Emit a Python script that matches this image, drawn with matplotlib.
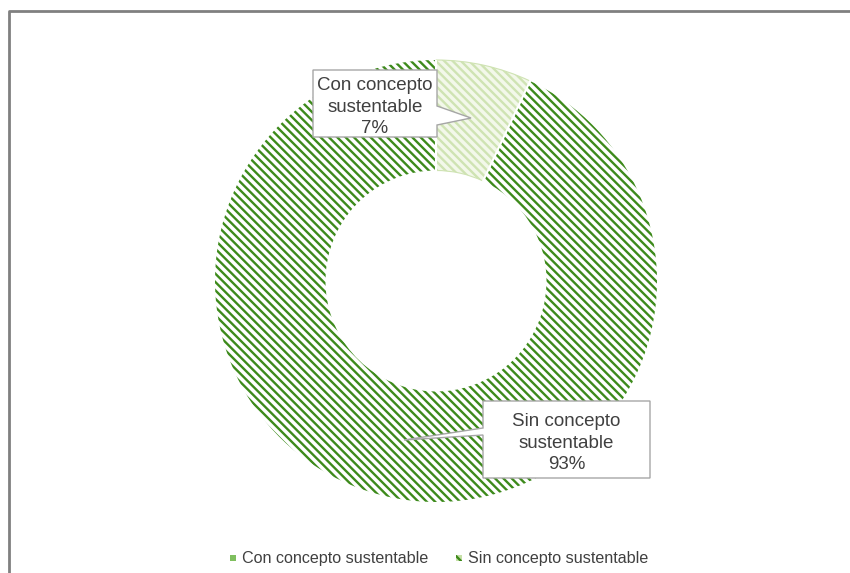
import matplotlib.pyplot as plt
from matplotlib.patches import Rectangle, Polygon
import numpy as np

labels = ['Con concepto sustentable', 'Sin concepto sustentable']
box_text = ['Con concepto\nsustentable\n7%', 'Sin concepto\nsustentable\n93%']
values = [7, 93]

plt.rcParams['font.family'] = ['Liberation Sans', 'DejaVu Sans']
plt.rcParams['hatch.linewidth'] = 1.7

fig = plt.figure(figsize=(8.5, 5.73), dpi=100)

# donut
pax = fig.add_axes([(436 - 221) / 850, 1 - (281 + 221) / 573, 442 / 850, 442 / 573])
faces = ['#f3f8ea', 'white']
hatch_cols = ['#d0e4b1', '#3d8a1b']
wedges, _ = pax.pie(values, startangle=90, counterclock=False, radius=1,
                    colors=faces, wedgeprops=dict(width=0.5, linewidth=0))
for w, hc in zip(wedges, hatch_cols):
    w.set_hatch('\\\\\\\\')
    w.set_edgecolor(hc)
    w.set_linewidth(0)
wedges[0].set_linewidth(0.8)
wedges[0].set_edgecolor('#cfe3b3')
# white gap between the two slices
for frac in [0, values[0] / sum(values)]:
    a = np.deg2rad(90 - 360 * frac)
    pax.plot([0.5 * np.cos(a), np.cos(a)], [0.5 * np.sin(a), np.sin(a)],
             color='white', lw=1.5, zorder=3)
pax.set_aspect('equal')
pax.set_xlim(-1, 1)
pax.set_ylim(-1, 1)
pax.axis('off')

ax = fig.add_axes([0, 0, 1, 1], facecolor='none')
ax.set_xlim(0, 850)
ax.set_ylim(573, 0)
ax.axis('off')

# outer chart frame (runs off the right and bottom)
ax.plot([9, 9, 860], [590, 11, 11], color='#808080', lw=2, solid_capstyle='butt')

# callout boxes
def callout(x0, y0, x1, y1, pts, text):
    poly = Polygon(pts, closed=True, facecolor='white', edgecolor='#a6a6a6', lw=1, zorder=5)
    ax.add_patch(poly)
    ax.text((x0 + x1) / 2, (y0 + y1) / 2 + 3.5, text, ha='center', va='center',
            fontsize=13.5, color='#404040', linespacing=1.35, zorder=6)

callout(313, 70, 437, 137,
        [(313, 70), (437, 70), (437, 106), (471, 118), (437, 125), (437, 137), (313, 137)],
        box_text[0])
callout(483, 401, 650, 478,
        [(483, 401), (650, 401), (650, 478), (483, 478), (483, 435), (404, 440), (483, 428)],
        box_text[1])

# legend
ax.add_patch(Rectangle((230, 555), 6, 6, facecolor='#7fbf5f', edgecolor='none'))
ax.text(242, 559, labels[0], va='center', ha='left', fontsize=11.6, color='#404040')
ax.add_patch(Rectangle((456, 555), 6, 6, facecolor='#c6e0a8', edgecolor='#3d8a1b',
                       lw=0, hatch='\\\\'))
ax.text(468, 559, labels[1], va='center', ha='left', fontsize=11.6, color='#404040')

fig.savefig('out.png', dpi=100)
